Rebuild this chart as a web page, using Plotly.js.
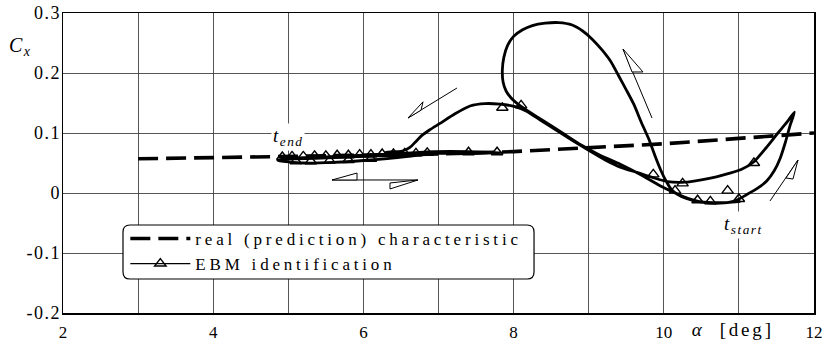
<!DOCTYPE html>
<html>
<head>
<meta charset="utf-8">
<script src="https://cdn.plot.ly/plotly-3.0.1.min.js"></script>
<style>
  html, body { margin: 0; padding: 0; background: #fff; }
  .legendtext { letter-spacing: 3.8px; }
  .annotation-text { letter-spacing: 1.5px; }
  .annotation[data-index="3"] .annotation-text { letter-spacing: 2.8px; }
  .ytick text { letter-spacing: 1.5px; }
</style>
</head>
<body>
<div id="chart" style="width:822px;height:351px;"></div>
<script>
// ---- data ----
const realAlpha = [3, 4, 5, 6, 7, 8, 9, 10, 11, 12];
const realCx    = [0.057, 0.059, 0.060, 0.062, 0.065, 0.069, 0.075, 0.082, 0.091, 0.100];

// EBM identification trajectory (t_start -> t_end)
const ebmAlpha = [
  11.02, 10.85, 10.65, 10.45, 10.30, 10.18, 10.10,
  10.03, 9.96, 9.88, 9.80, 9.70, 9.60, 9.50, 9.40, 9.30, 9.18, 9.05, 8.92, 8.78, 8.60, 8.42, 8.25, 8.12, 8.00, 7.92, 7.87, 7.85, 7.86, 7.90, 7.97, 8.07, 8.20,
  8.40, 8.65, 8.90, 9.15, 9.42, 9.70, 9.95, 10.15, 10.35, 10.55, 10.75, 10.95,
  11.10, 11.25, 11.37, 11.47, 11.55, 11.62, 11.68, 11.74,
  11.64, 11.52, 11.36, 11.20, 11.03, 10.88, 10.70, 10.50, 10.28, 10.05,
  9.85, 9.65, 9.42, 9.22, 9.00, 8.78, 8.55, 8.35, 8.18, 8.02, 7.82, 7.62, 7.42, 7.22, 7.02, 6.88, 6.78, 6.70, 6.62, 6.52,
  6.30, 6.60, 7.00, 7.40, 7.85, 7.40, 6.95, 6.50, 6.00, 5.50, 5.00, 4.86, 5.20, 5.60, 6.10, 6.60, 6.95, 6.60, 6.10, 5.60, 5.10, 4.90
];
const ebmCx = [
  -0.014, -0.016, -0.016, -0.014, -0.009, -0.002, 0.006,
  0.020, 0.038, 0.063, 0.090, 0.118, 0.148, 0.172, 0.195, 0.218, 0.238, 0.256, 0.270, 0.280, 0.284, 0.283, 0.279, 0.272, 0.261, 0.246, 0.226, 0.205, 0.185, 0.170, 0.158, 0.147, 0.136,
  0.120, 0.100, 0.080, 0.063, 0.048, 0.030, 0.012, 0.000, -0.010, -0.016, -0.017, -0.013,
  -0.003, 0.008, 0.020, 0.037, 0.058, 0.085, 0.112, 0.135,
  0.118, 0.100, 0.075, 0.052, 0.039, 0.033, 0.027, 0.022, 0.018, 0.019,
  0.026, 0.034, 0.043, 0.055, 0.071, 0.088, 0.106, 0.122, 0.136, 0.144, 0.148, 0.149, 0.145, 0.132, 0.116, 0.105, 0.096, 0.086, 0.076, 0.070,
  0.068, 0.066, 0.066, 0.066, 0.067, 0.069, 0.069, 0.066, 0.063, 0.060, 0.058, 0.054, 0.050, 0.051, 0.055, 0.061, 0.066, 0.066, 0.062, 0.059, 0.057, 0.057
];

// EBM sample points (triangles)
const ebmMarkAlpha = [4.92, 5.05, 5.2, 5.35, 5.5, 5.65, 5.8, 5.95, 6.1, 6.25, 6.4, 6.55, 6.7, 6.85,
                      5.1, 5.3, 5.55, 5.8, 6.1, 7.4, 7.78, 7.85, 8.1,
                      9.86, 10.15, 10.25, 10.45, 10.62, 10.85, 11.0, 11.2];
const ebmMarkCx    = [0.060, 0.061, 0.061, 0.062, 0.062, 0.063, 0.063, 0.064, 0.064, 0.065, 0.065, 0.066, 0.066, 0.067,
                      0.053, 0.053, 0.054, 0.055, 0.057, 0.068, 0.068, 0.142, 0.146,
                      0.031, 0.004, 0.016, -0.012, -0.014, 0.004, -0.010, 0.050];

const xTickVals = [2, 3, 4, 5, 6, 7, 8, 9, 10, 11, 12];
const xTickText = ['2', '', '4', '', '6', '', '8', '', '10', '', '12'];
const yTickVals = [-0.2, -0.1, 0, 0.1, 0.2, 0.3];
const yTickText = ['-0.2', '-0.1', '0', '0.1', '0.2', '0.3'];

const seriesNames = ['real (prediction) characteristic', 'EBM identification'];

// ---- traces ----
const serif = 'Liberation Serif, Times New Roman, serif';
const traces = [
  { x: realAlpha, y: realCx, mode: 'lines', name: seriesNames[0],
    line: { color: 'black', width: 3.6, dash: '20px,8px' } },
  { x: ebmAlpha, y: ebmCx, mode: 'lines', name: seriesNames[1], showlegend: false,
    line: { color: 'black', width: 2.8, shape: 'spline', smoothing: 0.6 } },
  { x: ebmMarkAlpha, y: ebmMarkCx, mode: 'markers', showlegend: false,
    marker: { symbol: 'triangle-up-open', size: 10, color: 'black', line: { width: 1.4, color: 'black' } } },
  { x: [null], y: [null], mode: 'lines+markers', name: seriesNames[1],
    line: { color: 'black', width: 1.2 },
    marker: { symbol: 'triangle-up-open', size: 10, color: 'black', line: { width: 1.4, color: 'black' } } }
];

// ---- decorations (legend frame, direction arrows) ----
const bx0 = 2.799, bx1 = 8.272, by0 = -0.0533, by1 = -0.1433, rx = 0.093, ry = 0.0117;
const boxPath = `M ${bx0 + rx},${by0} L ${bx1 - rx},${by0} Q ${bx1},${by0} ${bx1},${by0 - ry} ` +
  `L ${bx1},${by1 + ry} Q ${bx1},${by1} ${bx1 - rx},${by1} L ${bx0 + rx},${by1} ` +
  `Q ${bx0},${by1} ${bx0},${by1 + ry} L ${bx0},${by0 - ry} Q ${bx0},${by0} ${bx0 + rx},${by0} Z`;

const arrowLine = { color: 'black', width: 1 };
const shapes = [
  { type: 'path', xref: 'x', yref: 'y', path: boxPath, fillcolor: 'white', line: { color: 'black', width: 1.2 }, layer: 'above' },
  { type: 'path', xref: 'x', yref: 'y', path: 'M 9.843,0.125 L 9.457,0.240', line: arrowLine },
  { type: 'path', xref: 'x', yref: 'y', path: 'M 9.457,0.240 L 9.723,0.2017 L 9.577,0.2017 Z', line: arrowLine, fillcolor: 'white' },
  { type: 'path', xref: 'x', yref: 'y', path: 'M 7.246,0.175 L 6.594,0.125', line: arrowLine },
  { type: 'path', xref: 'x', yref: 'y', path: 'M 6.594,0.125 L 6.794,0.152 L 6.767,0.138 Z', line: arrowLine, fillcolor: 'white' },
  { type: 'path', xref: 'x', yref: 'y', path: 'M 5.582,0.0217 L 6.727,0.0217', line: arrowLine },
  { type: 'path', xref: 'x', yref: 'y', path: 'M 5.582,0.0217 L 5.915,0.0333 L 5.915,0.0217 Z', line: arrowLine, fillcolor: 'white' },
  { type: 'path', xref: 'x', yref: 'y', path: 'M 6.727,0.0217 L 6.354,0.0167 L 6.354,0.0067 Z', line: arrowLine, fillcolor: 'white' },
  { type: 'path', xref: 'x', yref: 'y', path: 'M 11.414,-0.0133 L 11.787,0.055', line: arrowLine },
  { type: 'path', xref: 'x', yref: 'y', path: 'M 11.787,0.055 L 11.72,0.0233 L 11.627,0.025 Z', line: arrowLine, fillcolor: 'white' }
];

const annotations = [
  { xref: 'x', yref: 'y', x: 5.0, y: 0.094, text: '<i>t</i><sub><i>end</i></sub>', showarrow: false,
    font: { family: serif, size: 19, color: 'black' }, bgcolor: 'white', borderpad: 1 },
  { xref: 'x', yref: 'y', x: 11.06, y: -0.054, text: '<i>t</i><sub><i>start</i></sub>', showarrow: false,
    font: { family: serif, size: 19, color: 'black' }, bgcolor: 'white', borderpad: 1 },
  { xref: 'paper', yref: 'paper', x: -0.075, xanchor: 'left', y: 0.935, text: '<i>C</i><sub><i>x</i></sub>', showarrow: false,
    font: { family: serif, size: 20, color: 'black' } },
  { xref: 'paper', yref: 'paper', x: 0.842, xanchor: 'left', y: -0.097, text: '<i>α</i>\u00a0\u00a0[deg]', showarrow: false,
    font: { family: serif, size: 19, color: 'black' } }
];

const gridColor = '#444';
const layout = {
  width: 822, height: 351,
  margin: { l: 63, r: 8, t: 13, b: 38 },
  paper_bgcolor: 'white', plot_bgcolor: 'white',
  font: { family: serif, size: 17, color: 'black' },
  showlegend: true,
  legend: { x: 0.083, y: 0.307, xanchor: 'left', yanchor: 'top', bgcolor: 'rgba(0,0,0,0)',
            borderwidth: 0, font: { family: serif, size: 17, color: 'black' }, itemwidth: 60, tracegroupgap: 0 },
  xaxis: { range: [2, 12], tickmode: 'array', tickvals: xTickVals, ticktext: xTickText,
           showgrid: true, gridcolor: gridColor, gridwidth: 0.9, zeroline: false,
           showline: true, mirror: true, linecolor: 'black', linewidth: 1.5,
           ticks: 'outside', ticklen: 3, tickcolor: 'rgba(0,0,0,0)', ticklabeloverflow: 'allow',
           tickfont: { family: serif, size: 17 } },
  yaxis: { range: [-0.2, 0.3], tickmode: 'array', tickvals: yTickVals, ticktext: yTickText,
           showgrid: true, gridcolor: gridColor, gridwidth: 0.9, zeroline: false,
           showline: true, mirror: true, linecolor: 'black', linewidth: 1.5,
           ticks: '', ticklabelstandoff: -3, ticklabeloverflow: 'allow', tickfont: { family: serif, size: 18 } },
  shapes: shapes,
  annotations: annotations
};

Plotly.newPlot('chart', traces, layout, { staticPlot: true, displayModeBar: false });
</script>
</body>
</html>
